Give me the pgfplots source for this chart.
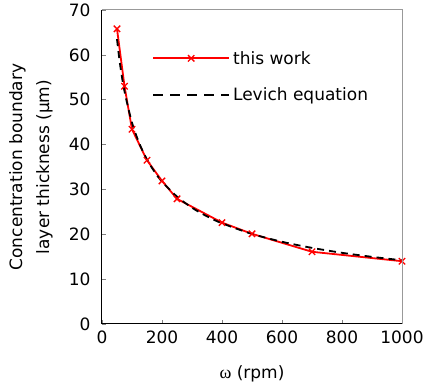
\documentclass[border=0pt]{standalone}
\usepackage{fontspec}
\setmainfont{DejaVu Sans}
\newfontfamily\serifw{Liberation Serif}
\usepackage{pgfplots}
\pgfplotsset{compat=1.18}
\begin{document}
\begin{tikzpicture}
\begin{axis}[
  name=ax,
  scale only axis,
  width=300pt, height=314pt,
  xmin=0, xmax=1000, ymin=0, ymax=70,
  xtick={0,200,...,1000}, ytick={0,10,...,70},
  axis x line*=bottom, axis y line*=left,
  axis line style={black, line width=1pt},
  tick align=inside,
  major tick length=4pt,
  tick style={gray, line width=0.6pt},
  /pgf/number format/assume math mode=true,
  /pgf/number format/1000 sep={},
  ticklabel style={font=\fontsize{17}{20}\selectfont},
  xticklabel style={yshift=-3pt},
  yticklabel style={xshift=-8pt},
  xlabel={{\serifw\fontsize{18}{20}\selectfont ω} (rpm)},
  ylabel={Concentration boundary\\layer thickness (μm)},
  xlabel style={font=\fontsize{17}{20}\selectfont, at={(axis description cs:0.5,0)}, anchor=center, yshift=-50pt},
  ylabel style={font=\fontsize{17}{27}\selectfont, align=center, at={(axis description cs:-0.237,0.5)}, anchor=center},
  legend style={draw=none, fill=none, at={(axis description cs:0.167,0.876)}, anchor=north west,
    font=\fontsize{17}{20}\selectfont, row sep=18pt, inner sep=0pt},
  legend cell align=left,
  extra description/.code={\draw[gray!80, line width=1pt] (rel axis cs:0,1) -- (rel axis cs:1,1) -- (rel axis cs:1,0);},
]
\addplot[red, line width=1.8pt, mark=x, mark size=4.5pt, mark options={line width=1.3pt},
  legend image code/.code={\draw[red, line width=1.8pt] (0pt,0pt) -- (76pt,0pt); \draw[red, line width=1.3pt] plot[mark=x, mark size=4.5pt] coordinates {(38pt,0pt)}; \path (77pt,0pt);}]
coordinates {(50,65.8) (75,53.0) (100,43.4) (150,36.5) (200,31.9) (250,27.9) (400,22.6) (500,20.1) (700,16.1) (1000,14.0)};
\addlegendentry{this work}
\addplot[black, line width=1.8pt, dash pattern=on 7pt off 5pt, smooth,
  legend image code/.code={\draw[black, line width=1.8pt, dash pattern=on 10pt off 7pt] (0pt,0pt) -- (76pt,0pt); \path (77pt,0pt);}]
coordinates {(50,63.5) (60,57.97) (75,51.85) (100,44.9) (125,40.16) (150,36.66) (175,33.94) (200,31.75) (250,28.4) (300,25.92) (350,24.0) (400,22.45) (500,20.08) (600,18.33) (700,16.97) (800,15.87) (900,14.97) (1000,14.2)};
\addlegendentry{Levich equation}
\end{axis}
\pgfresetboundingbox
\path[use as bounding box] (ax.south west) ++(-102pt,-63pt) rectangle ++(423pt,387pt);
\end{tikzpicture}
\end{document}
